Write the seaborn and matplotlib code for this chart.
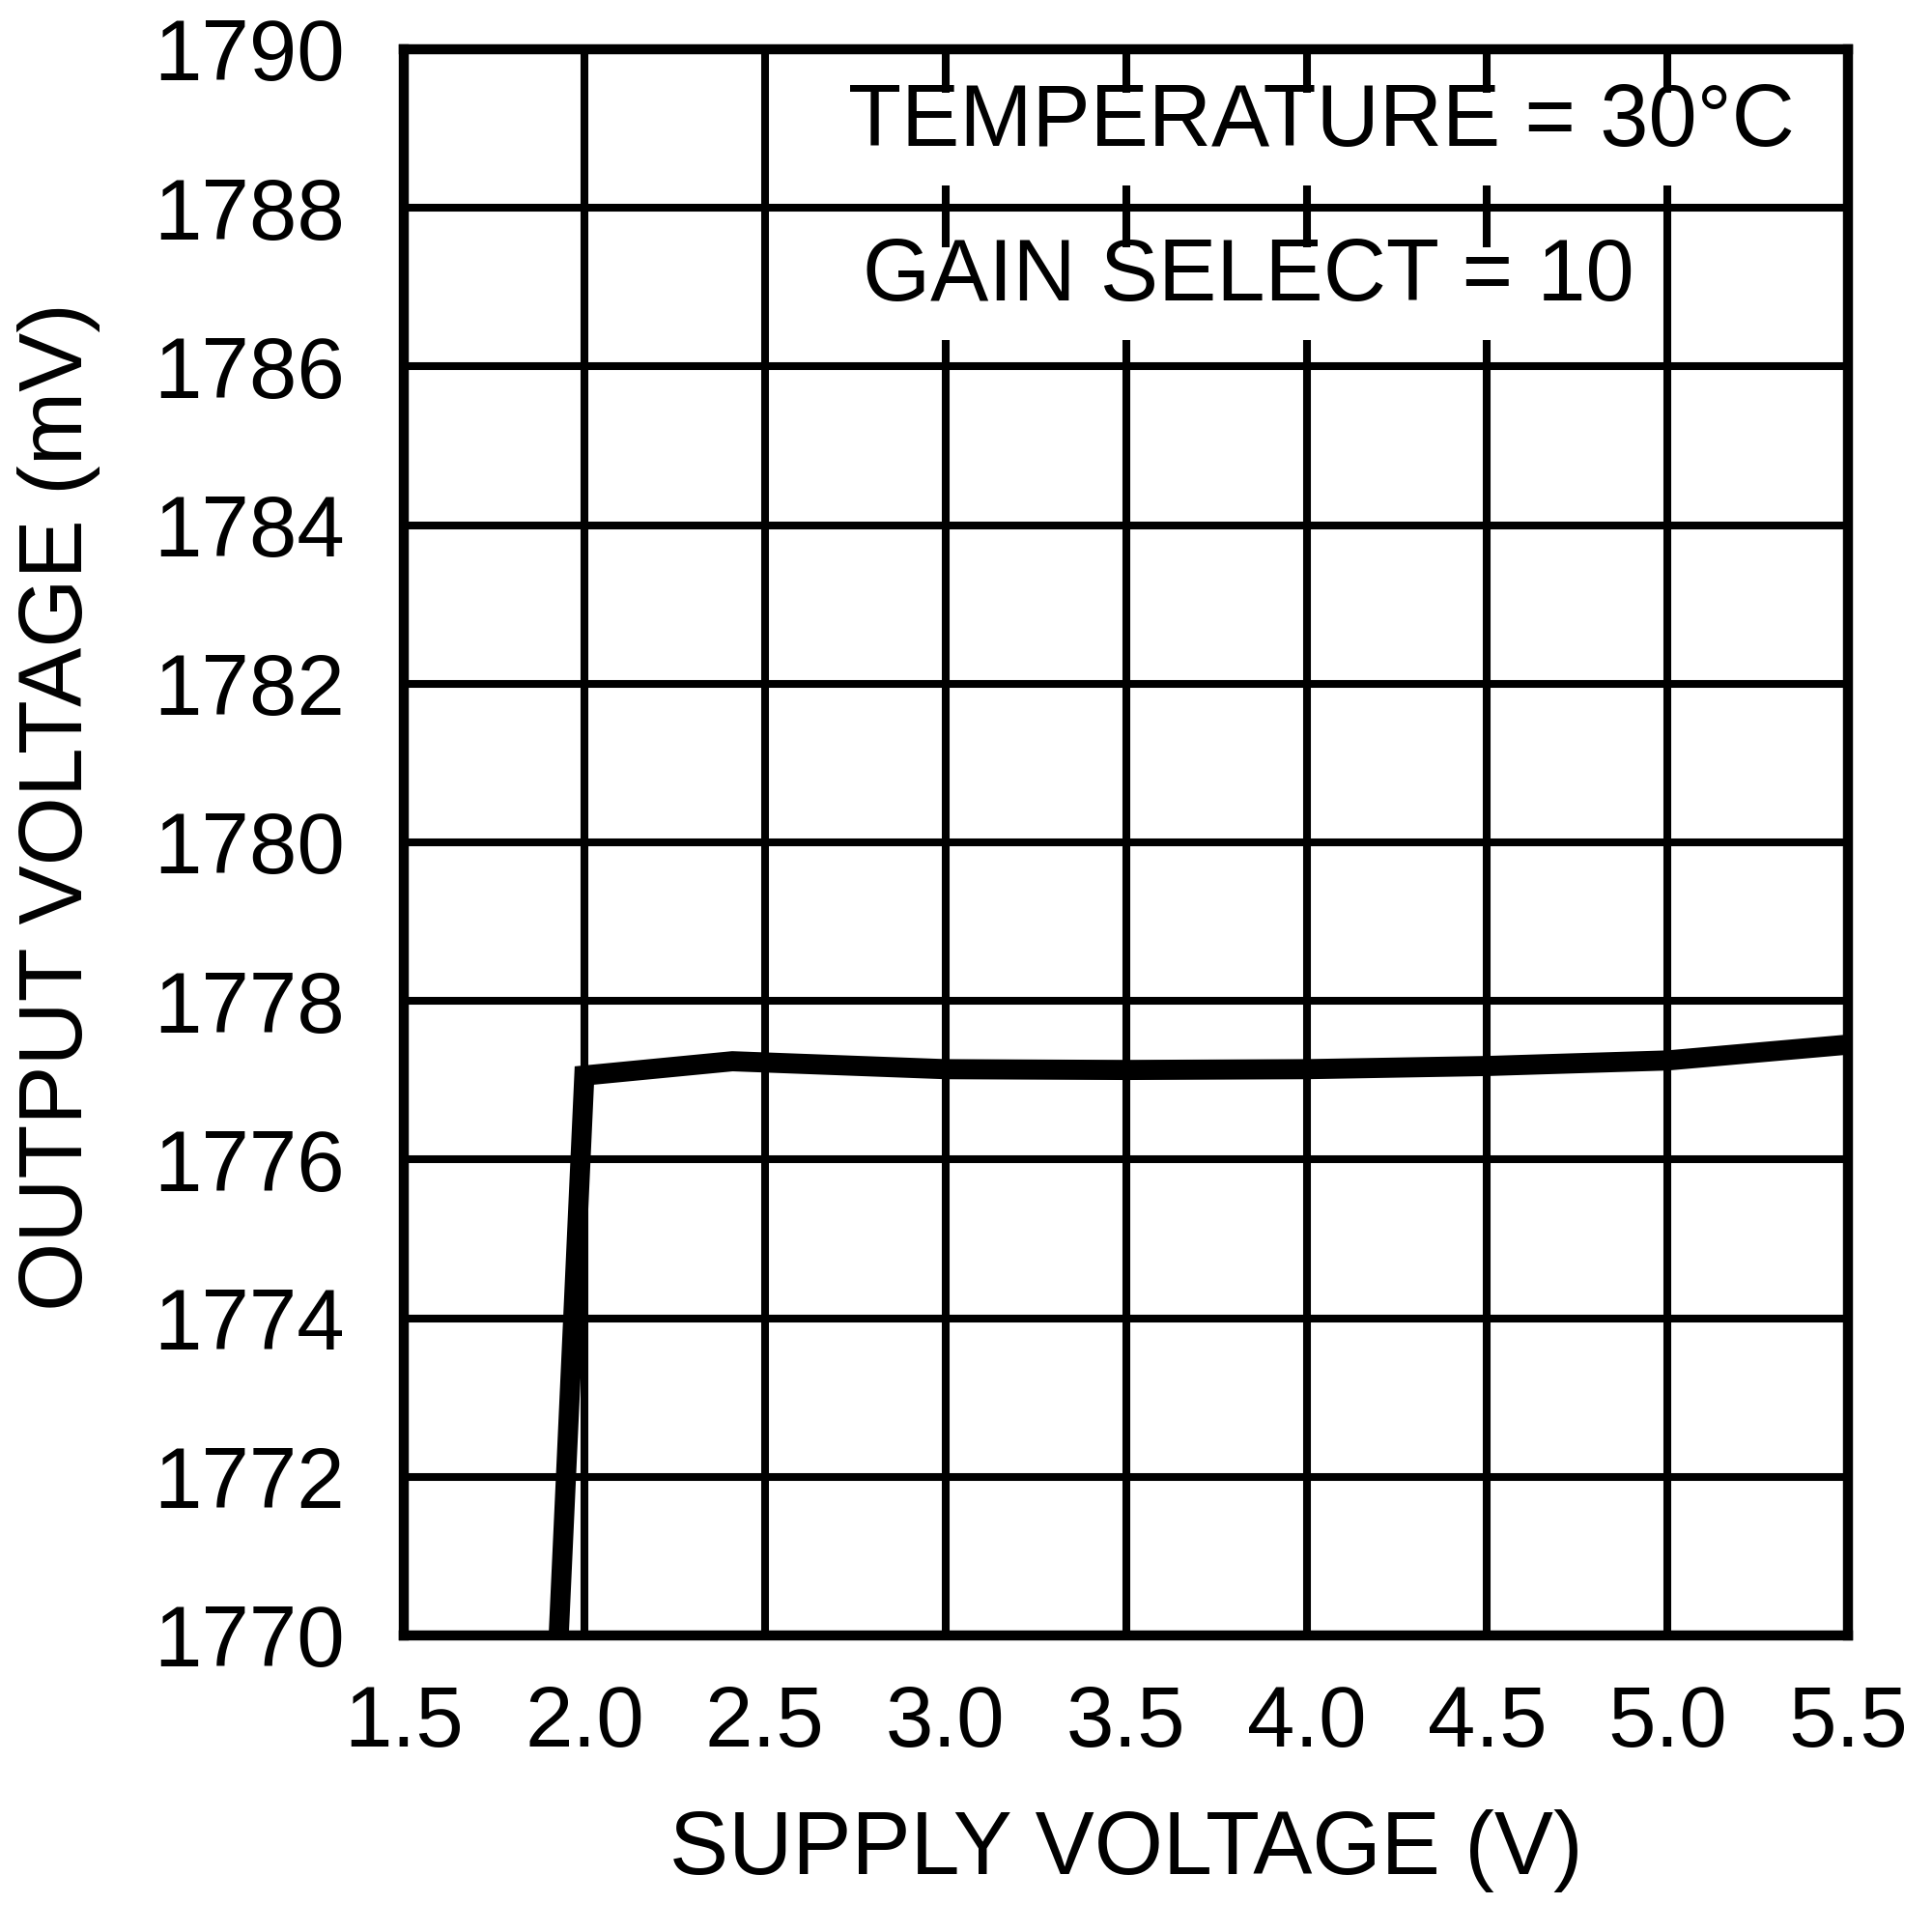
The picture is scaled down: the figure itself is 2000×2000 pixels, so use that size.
import numpy as np
import pandas as pd
import matplotlib
matplotlib.use("Agg")
import matplotlib.pyplot as plt
from matplotlib.patches import Rectangle
import seaborn as sns

# values
supply_v = [1.925, 2.0, 2.41, 3.0, 3.5, 4.0, 4.5, 5.0, 5.5]
output_mv = [1769.6, 1777.06, 1777.24, 1777.14, 1777.13, 1777.14, 1777.18, 1777.25, 1777.45]

x_ticks = [1.5, 2.0, 2.5, 3.0, 3.5, 4.0, 4.5, 5.0, 5.5]
y_ticks = [1770, 1772, 1774, 1776, 1778, 1780, 1782, 1784, 1786, 1788, 1790]

note_temp = "TEMPERATURE = 30°C"
note_gain = "GAIN SELECT = 10"


def main():
    df = pd.DataFrame({"supply": supply_v, "output": output_mv})

    sns.set_theme(style="white")
    plt.rcParams['font.family'] = ['Liberation Sans', 'DejaVu Sans']

    fig = plt.figure(figsize=(20, 20), dpi=100)
    ax = fig.add_axes([0.209, 0.1535, 0.7476, 0.821])

    sns.lineplot(data=df, x="supply", y="output", ax=ax, color="black",
                 sort=False, zorder=3)
    # heavy stroke like the datasheet curve
    for ln in ax.lines:
        ln.set_linewidth(15)
        ln.set_solid_joinstyle("miter")
        ln.set_solid_capstyle("butt")

    ax.set_xlim(1.5, 5.5)
    ax.set_ylim(1770, 1790)
    ax.set_xticks(x_ticks)
    ax.set_yticks(y_ticks)
    ax.set_xticklabels([f"{t:.1f}" for t in x_ticks])
    ax.set_yticklabels([str(t) for t in y_ticks])

    # black grid, heavy frame
    ax.grid(True, color="black", linewidth=5.8)
    ax.set_axisbelow(True)
    for sp in ax.spines.values():
        sp.set_color("black")
        sp.set_linewidth(7.5)
        sp.set_visible(True)
        sp.set_zorder(5)

    ax.tick_params(axis="both", length=0, labelsize=64, colors="black")
    ax.tick_params(axis="x", pad=36)
    ax.tick_params(axis="y", pad=44)

    ax.set_xlabel("SUPPLY VOLTAGE (V)", fontsize=66, color="black")
    ax.set_ylabel("OUTPUT VOLTAGE (mV)", fontsize=66, color="black")
    ax.xaxis.set_label_coords(0.5, -0.136)
    ax.xaxis.label.set_va("center")
    ax.yaxis.set_label_coords(-0.239, 0.5225)
    ax.yaxis.label.set_va("center")

    notes = [
        ax.text(4.04, 1789.07, note_temp, fontsize=65, ha="center", va="center",
                color="black", zorder=4),
        ax.text(3.84, 1787.12, note_gain, fontsize=65, ha="center", va="center",
                color="black", zorder=4),
    ]

    # white frames behind the notes (grid is broken around the text)
    fig.canvas.draw()
    inv = ax.transAxes.inverted()
    for t in notes:
        bb = t.get_window_extent()
        (x0, y0) = inv.transform((bb.x0 - 4, bb.y0 - 22))
        (x1, y1) = inv.transform((bb.x1 + 4, bb.y1 - 11))
        ax.add_patch(Rectangle((x0, y0), x1 - x0, y1 - y0, transform=ax.transAxes,
                               facecolor="white", edgecolor="none", zorder=3.5))

    fig.savefig("out.png", dpi=100, facecolor="white")
    plt.close(fig)


if __name__ == '__main__':
    main()
